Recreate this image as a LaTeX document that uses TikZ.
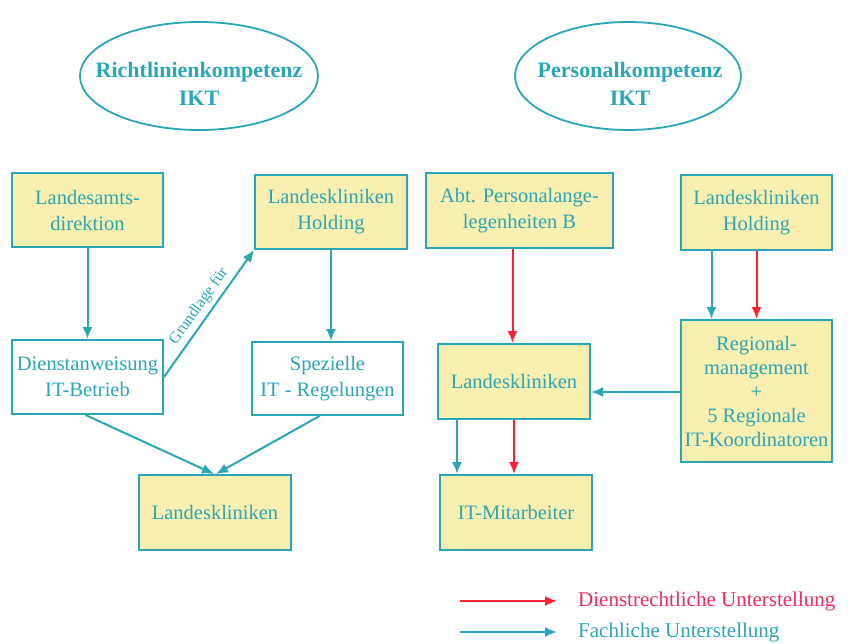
\documentclass[tikz,border=0pt]{standalone}
\usepackage{fontspec}
\setmainfont{Liberation Serif}
\usetikzlibrary{arrows.meta,shapes.geometric}
\definecolor{tl}{HTML}{2AA6B7}
\definecolor{fl}{HTML}{F9EFB0}
\definecolor{rd}{HTML}{FF2033}
\definecolor{pk}{HTML}{EE2A5E}
\begin{document}
\begin{tikzpicture}[x=1pt,y=-1pt,
  box/.style={draw=tl,line width=2pt,text=tl,align=center,font=\fontsize{20.5}{26}\selectfont,inner sep=0pt},
  ybox/.style={box,fill=fl},
  wbox/.style={box,fill=white},
  ell/.style={ellipse,draw=tl,line width=1.8pt,minimum width=238pt,minimum height=108pt,inner sep=0pt},
  etext/.style={text=tl,align=center,font=\bfseries\fontsize{22}{28}\selectfont,inner sep=0pt},
  ta/.style={draw=tl,line width=2pt,-{Latex[length=12pt,width=10pt]}},
  ra/.style={draw=rd,line width=2pt,-{Latex[length=12pt,width=10pt]}}]
\useasboundingbox (0,0) rectangle (848,643);
\node[ell] (e1) at (199,76) {};
\node[etext] (e1t) at (199,84) {Richtlinienkompetenz\\IKT};
\node[ell,minimum width=226pt] (e2) at (628,76) {};
\node[etext] (e2t) at (630,84) {Personalkompetenz\\IKT};
\node[ybox,minimum width=151pt,minimum height=74pt] (lad) at (87.5,210) {Landesamts-\\direktion};
\node[ybox,minimum width=152pt,minimum height=74pt] (lkh1) at (331,212) {Landeskliniken\\Holding};
\node[wbox,minimum width=151pt,minimum height=74pt] (dia) at (87.5,377) {Dienstanweisung\\IT-Betrieb};
\node[wbox,minimum width=151pt,minimum height=73pt] (spz) at (327.5,378.5) {Spezielle\\IT - Regelungen};
\node[ybox,minimum width=152pt,minimum height=75pt] (lk1) at (215,512.5) {Landeskliniken};
\node[ybox,minimum width=187pt,minimum height=75pt] (abt) at (519.5,210.5) {Abt. Personalange-\\legenheiten B};
\node[ybox,minimum width=151pt,minimum height=75pt] (lkh2) at (756.5,212.5) {Landeskliniken\\Holding};
\node[ybox,minimum width=152pt,minimum height=75pt] (lk2) at (514,381.5) {Landeskliniken};
\node[ybox,minimum width=151pt,minimum height=142pt,font=\fontsize{20.5}{24}\selectfont] (reg) at (756.5,391) {Regional-\\management\\+\\5 Regionale\\IT-Koordinatoren};
\node[ybox,minimum width=152pt,minimum height=75pt] (itm) at (516,512.5) {IT-Mitarbeiter};
% left arrows
\draw[ta] (lad.south) -- (dia.north);
\draw[ta] (dia.east) -- (lkh1.south west) node[midway,above,sloped,text=tl,font=\fontsize{16}{18}\selectfont,inner sep=4pt] {Grundlage für};
\draw[ta] (lkh1.south) -- (lkh1.south |- spz.north);
\draw[ta] ([xshift=-2pt]dia.south) -- ([xshift=-1pt]lk1.north);
\draw[ta] ([xshift=-8pt]spz.south) -- ([xshift=1pt]lk1.north);
% right arrows
\draw[ra] ([xshift=-7pt]abt.south) -- ([xshift=-7pt]abt.south |- lk2.north);
\draw[ta] ([xshift=-45pt]lkh2.south) -- ([xshift=-45pt]lkh2.south |- reg.north);
\draw[ra] (lkh2.south) -- (lkh2.south |- reg.north);
\draw[ta] (reg.west |- 0,392) -- (lk2.east |- 0,392);
\draw[ta] ([xshift=-57pt]lk2.south) -- ([xshift=-57pt]lk2.south |- itm.north);
\draw[ra] (lk2.south) -- (lk2.south |- itm.north);
% legend
\coordinate (l1a) at (460,601); \coordinate (l1b) at (557,601);
\coordinate (l2a) at (460,632); \coordinate (l2b) at (557,632);
\draw[ra] (l1a) -- (l1b);
\draw[ta] (l2a) -- (l2b);
\node[anchor=west,text=pk,font=\fontsize{21}{24}\selectfont,inner sep=0pt] (t1) at (578,601) {Dienstrechtliche Unterstellung};
\node[anchor=west,text=tl,font=\fontsize{21}{24}\selectfont,inner sep=0pt] (t2) at (578,632) {Fachliche Unterstellung};
\end{tikzpicture}
\end{document}
